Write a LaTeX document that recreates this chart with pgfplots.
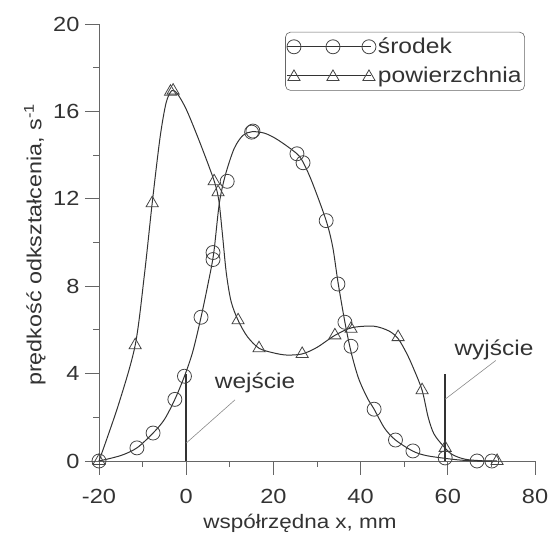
\documentclass[border=0pt]{standalone}
\usepackage{fontspec}
\setmainfont{Liberation Sans}[FakeStretch=1.15]
\usepackage{pgfplots}
\usepackage{pgfplotstable}
\pgfplotsset{compat=1.18}

\definecolor{ink}{HTML}{333333}
\definecolor{axisgray}{HTML}{666666}
\definecolor{markgray}{HTML}{444444}
\definecolor{leader}{HTML}{8A8A8A}

% measured points: centre of the sample (srodek)
\pgfplotstableread{
x y
-20 0
-11.3 0.6
-7.6 1.28
-2.6 2.82
-0.4 3.88
3.4 6.58
6.15 9.22
6.15 9.54
9.4 12.8
15.0 15.05
15.3 15.1
25.4 14.06
26.8 13.65
32.1 11.0
34.8 8.1
36.4 6.35
37.8 5.25
43.1 2.37
48.0 0.96
52.0 0.46
59.4 0.14
66.7 0.0
70.1 0.0
}\srodek

% measured points: surface (powierzchnia)
\pgfplotstableread{
x y
-20 0
-11.7 5.3
-7.8 11.8
-3.6 16.9
-3.0 16.95
6.4 12.8
7.3 12.3
11.9 6.44
16.7 5.16
26.6 4.9
34.1 5.75
37.8 6.05
48.6 5.67
54.1 3.24
59.4 0.6
71.3 0.0
}\powierzchnia

% fitted curve through the centre points
\pgfplotstableread{
x y
-20 0
-15 0.25
-11.3 0.6
-7.6 1.28
-5 1.9
-2.6 2.82
-0.4 3.88
1.5 5.0
3.4 6.58
5.0 8.1
6.3 9.5
7.6 11.8
9.0 13.1
11.0 14.3
13.0 14.9
15.1 15.07
18.0 15.0
21.0 14.7
25.4 14.06
27.0 13.6
29.0 12.7
32.1 11.0
33.6 9.8
34.8 8.2
36.4 6.35
37.8 5.0
39.5 3.8
41.5 2.9
43.1 2.37
45.5 1.5
48.0 0.96
52.0 0.45
55.0 0.25
59.4 0.12
63.0 0.04
66.7 0.0
70.1 0.0
}\srodekfit

% fitted curve through the surface points
\pgfplotstableread{
x y
-20 0
-15.5 2.6
-11.7 5.3
-9.6 8.5
-7.8 11.8
-6.0 14.8
-4.6 16.4
-3.3 16.95
-2.0 16.8
0.0 16.1
2.5 14.9
5.0 13.6
6.6 12.7
7.5 11.9
8.3 10.4
9.2 8.6
10.3 7.3
11.9 6.44
14.0 5.7
16.7 5.16
20.0 4.95
23.0 4.85
26.6 4.9
30.0 5.2
34.1 5.75
38.0 6.1
43.0 6.17
46.5 5.95
48.6 5.6
50.5 4.95
52.0 4.3
54.1 3.24
55.5 2.0
56.8 1.25
58.9 0.7
61.0 0.3
64.0 0.08
68.0 0.01
71.3 0
}\powierzchniafit

\begin{document}
\begin{tikzpicture}[font=\fontsize{20.5}{24.6}\selectfont]
\begin{axis}[
  at={(0pt,0pt)}, anchor=south west,
  scale only axis, width=436pt, height=437pt,
  xmin=-20, xmax=80, ymin=0, ymax=20,
  enlargelimits=false,
  clip=false,
  axis lines=left,
  axis line style={-, draw=axisgray, line width=0.8pt},
  xtick={-20,0,...,80}, ytick={0,4,...,20},
  minor x tick num=1, minor y tick num=1,
  tick align=outside,
  major tick length=14pt, minor tick length=6pt,
  tick style={draw=axisgray, line width=0.8pt},
  /pgf/number format/assume math mode=true,
  ticklabel style={text=ink, font=\fontsize{20.5}{24.6}\selectfont},
  xticklabel style={anchor=north, yshift=-11pt},
  yticklabel style={anchor=east, xshift=-2pt},
  xlabel={współrzędna x, mm},
  ylabel={prędkość odkształcenia, s\textsuperscript{-1}},
  every axis x label/.style={at={(axis description cs:0.461,-0.155)}, anchor=base,
    text=ink, font=\fontsize{19.5}{23.4}\selectfont},
  every axis y label/.style={at={(axis description cs:-0.147,0.495)}, rotate=90,
    anchor=center, text=ink, font=\fontsize{20.3}{24.4}\selectfont},
  legend style={at={(0.427,0.982)}, anchor=north west, draw=axisgray,
    rounded corners=5pt, line width=0.6pt, inner xsep=1pt, inner ysep=4pt,
    text=ink, font=\fontsize{21.4}{25.7}\selectfont, row sep=8pt,
    cells={anchor=west}},
  legend cell align=left,
]
% legend entries: line with three markers
\addlegendimage{legend image code/.code={
  \draw[ink, line width=1pt] (0pt,0pt) -- (84pt,0pt);
  \draw[markgray, line width=0.8pt] plot[only marks, mark=o, mark size=7pt]
    coordinates {(7pt,0pt) (46pt,0pt) (82pt,0pt)};
}}
\addlegendentry{środek}
\addlegendimage{legend image code/.code={
  \draw[ink, line width=1pt] (0pt,0pt) -- (84pt,0pt);
  \draw[markgray, line width=0.8pt] plot[only marks, mark=triangle, mark size=7pt]
    coordinates {(7pt,-1pt) (46pt,-1pt) (82pt,-1pt)};
}}
\addlegendentry{powierzchnia}

% fitted curves
\addplot[ink, line width=1pt, smooth, tension=0.5, forget plot] table {\srodekfit};
\addplot[ink, line width=1pt, smooth, tension=0.5, forget plot] table {\powierzchniafit};

% measured points
\addplot[only marks, mark=o, mark size=7pt, markgray, line width=0.8pt, forget plot] table {\srodek};
\addplot[only marks, mark=triangle, mark size=7pt, markgray, line width=0.8pt, forget plot] table {\powierzchnia};

% inlet and outlet positions
\draw[ink, line width=1.8pt] (axis cs:0,0) -- (axis cs:0,4);
\draw[leader, line width=0.6pt] (axis cs:0,0.82) -- (axis cs:11.2,2.8);
\node[text=ink, font=\fontsize{21.3}{25.6}\selectfont] at (axis cs:15.8,3.56) {wejście};
\draw[ink, line width=1.8pt] (axis cs:59.4,0) -- (axis cs:59.4,4);
\draw[leader, line width=0.6pt] (axis cs:59.4,2.83) -- (axis cs:71,4.6);
\node[text=ink, font=\fontsize{21.3}{25.6}\selectfont] at (axis cs:70.6,5.07) {wyjście};
\end{axis}
\pgfresetboundingbox
\path[use as bounding box] (-99pt,-79pt) rectangle (452pt,461pt);
\end{tikzpicture}
\end{document}
